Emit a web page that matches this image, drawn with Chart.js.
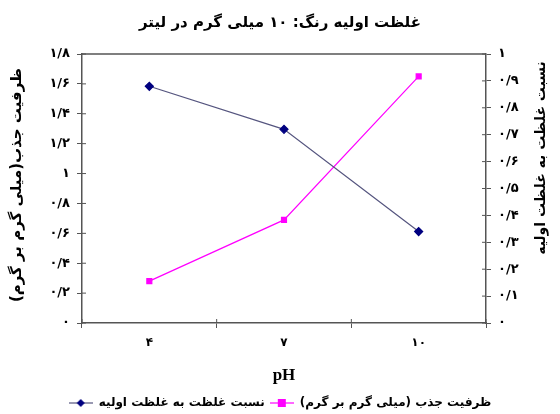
<!DOCTYPE html>
<html>
<head>
<meta charset="utf-8">
<script src="https://cdn.jsdelivr.net/npm/chart.js@4"></script>
<style>
  html, body { margin: 0; padding: 0; background: #fff; }
  #wrap { width: 560px; height: 414px; }
</style>
</head>
<body>
<div id="wrap"><canvas id="phchart"></canvas></div>
<script>
// data
const phValues = [4, 7, 10];
const capacity = [0.28, 0.69, 1.65];   // left axis, mg/g
const ratio = [0.88, 0.72, 0.34];      // right axis, C/C0

const titleText = 'غلظت اولیه رنگ: ۱۰ میلی گرم در لیتر';
const leftTitle = 'ظرفیت جذب(میلی گرم بر گرم)';
const rightTitle = 'نسبت غلظت به غلظت اولیه';
const capacityLabel = 'ظرفیت جذب (میلی گرم بر گرم)';
const ratioLabel = 'نسبت غلظت به غلظت اولیه';

const FONT = '"DejaVu Sans", sans-serif';
const axisColor = '#555';

function faDigits(s) {
    return String(s).replace(/[0-9]/g, d => '۰۱۲۳۴۵۶۷۸۹'[d]);
}
function faNumber(v) {
    return faDigits(Number(v.toFixed(1)).toString().replace('.', '/'));
}

// small legend icons: line through a marker
function legendIcon(color, lineColor, shape) {
    const c = document.createElement('canvas');
    c.width = 24; c.height = 10;
    const g = c.getContext('2d');
    g.strokeStyle = lineColor; g.lineWidth = 1.2;
    g.beginPath(); g.moveTo(0, 5); g.lineTo(24, 5); g.stroke();
    g.fillStyle = color;
    if (shape === 'rect') {
        g.fillRect(8, 1, 8, 8);
    } else {
        g.beginPath(); g.moveTo(12, 1); g.lineTo(16, 5); g.lineTo(12, 9); g.lineTo(8, 5); g.closePath(); g.fill();
    }
    return c;
}
const ratioIcon = legendIcon('#000080', '#55557f', 'diamond');
const capIcon = legendIcon('#ff00ff', '#ff00ff', 'rect');

// frame top edge, inner tick marks and rotated axis titles
const extras = {
    id: 'extras',
    afterDraw(chart) {
        const ctx = chart.ctx;
        const a = chart.chartArea;
        ctx.save();
        ctx.strokeStyle = axisColor;
        ctx.lineWidth = 1.5;
        ctx.beginPath();
        ctx.moveTo(a.left, a.top); ctx.lineTo(a.right, a.top);
        ctx.stroke();
        ctx.lineWidth = 1;
        const yl = chart.scales.y, yr = chart.scales.y1, x = chart.scales.x;
        ctx.beginPath();
        yl.ticks.forEach((t, i) => { const p = yl.getPixelForTick(i); ctx.moveTo(a.left, p); ctx.lineTo(a.left + 4, p); });
        yr.ticks.forEach((t, i) => { const p = yr.getPixelForTick(i); ctx.moveTo(a.right, p); ctx.lineTo(a.right - 4, p); });
        for (let i = 0; i <= x.ticks.length; i++) {
            const p = a.left + (a.right - a.left) * i / x.ticks.length;
            ctx.moveTo(p, a.bottom); ctx.lineTo(p, a.bottom - 4);
        }
        ctx.stroke();

        ctx.fillStyle = '#000';
        ctx.font = 'bold 15px ' + FONT;
        ctx.textAlign = 'center';
        ctx.textBaseline = 'middle';
        ctx.translate(17, 185);
        ctx.rotate(-Math.PI / 2);
        ctx.fillText(leftTitle, 0, 0);
        ctx.restore();

        ctx.save();
        ctx.fillStyle = '#000';
        ctx.font = 'bold 14px ' + FONT;
        ctx.textAlign = 'center';
        ctx.textBaseline = 'middle';
        ctx.translate(541, 158);
        ctx.rotate(-Math.PI / 2);
        ctx.fillText(rightTitle, 0, 0);
        ctx.restore();
    }
};

const ctxgraph = document.getElementById('phchart').getContext('2d');
const phChart = new Chart(ctxgraph, {
    type: 'line',
    data: {
        labels: phValues.map(v => faDigits(v)),
        datasets: [{
            label: ratioLabel,
            data: ratio,
            yAxisID: 'y1',
            borderColor: '#55557f',
            borderWidth: 1.2,
            backgroundColor: '#000080',
            pointBackgroundColor: '#000080',
            pointBorderColor: '#000080',
            pointStyle: 'rectRot',
            pointRadius: 4,
            tension: 0
        }, {
            label: capacityLabel,
            data: capacity,
            yAxisID: 'y',
            borderColor: '#ff00ff',
            borderWidth: 1.2,
            backgroundColor: '#ff00ff',
            pointBackgroundColor: '#ff00ff',
            pointBorderColor: '#ff00ff',
            pointStyle: 'rect',
            pointRadius: 3.5,
            tension: 0
        }]
    },
    options: {
        responsive: true,
        maintainAspectRatio: false,
        animation: false,
        layout: { padding: { top: 0, left: 0, right: 0, bottom: -5 } },
        plugins: {
            title: {
                display: true,
                text: titleText,
                color: '#000',
                font: { family: FONT, size: 15, weight: 'bold' },
                padding: { top: 14, bottom: 22 }
            },
            legend: {
                position: 'bottom',
                labels: {
                    color: '#000',
                    font: { family: FONT, size: 12, weight: 'bold' },
                    usePointStyle: true,
                    pointStyleWidth: 24,
                    boxHeight: 10,
                    padding: 5,
                    generateLabels(chart) {
                        return chart.data.datasets.map((ds, i) => ({
                            text: ds.label,
                            pointStyle: i === 0 ? ratioIcon : capIcon,
                            fillStyle: ds.backgroundColor,
                            strokeStyle: ds.borderColor,
                            lineWidth: 0,
                            hidden: false,
                            datasetIndex: i,
                            fontColor: '#000'
                        }));
                    }
                }
            },
            tooltip: { enabled: false }
        },
        scales: {
            x: {
                offset: true,
                grid: { offset: true, drawOnChartArea: false, tickLength: 5, color: axisColor, tickColor: axisColor },
                border: { color: axisColor, width: 1.5 },
                ticks: { color: '#000', padding: 8, font: { family: FONT, size: 12, weight: 'bold' } },
                title: {
                    display: true,
                    text: 'pH',
                    color: '#000',
                    font: { family: '"Liberation Serif", serif', size: 17, weight: 'bold' },
                    padding: { top: 10, bottom: 6 }
                },
                afterFit(scale) { scale.height = 69; }
            },
            y: {
                position: 'left',
                min: 0,
                max: 1.8,
                ticks: {
                    stepSize: 0.2,
                    color: '#000',
                    padding: 7,
                    font: { family: FONT, size: 13, weight: 'bold' },
                    callback: v => faNumber(v)
                },
                grid: { drawOnChartArea: false, tickLength: 5, color: axisColor },
                border: { color: axisColor, width: 1.5 },
                afterFit(scale) { scale.width = 82; }
            },
            y1: {
                position: 'right',
                min: 0,
                max: 1,
                ticks: {
                    stepSize: 0.1,
                    color: '#000',
                    padding: 7,
                    font: { family: FONT, size: 13, weight: 'bold' },
                    callback: v => faNumber(v)
                },
                grid: { drawOnChartArea: false, tickLength: 5, color: axisColor },
                border: { color: axisColor, width: 1.5 },
                afterFit(scale) { scale.width = 74; }
            }
        }
    },
    plugins: [extras]
});
</script>
</body>
</html>
